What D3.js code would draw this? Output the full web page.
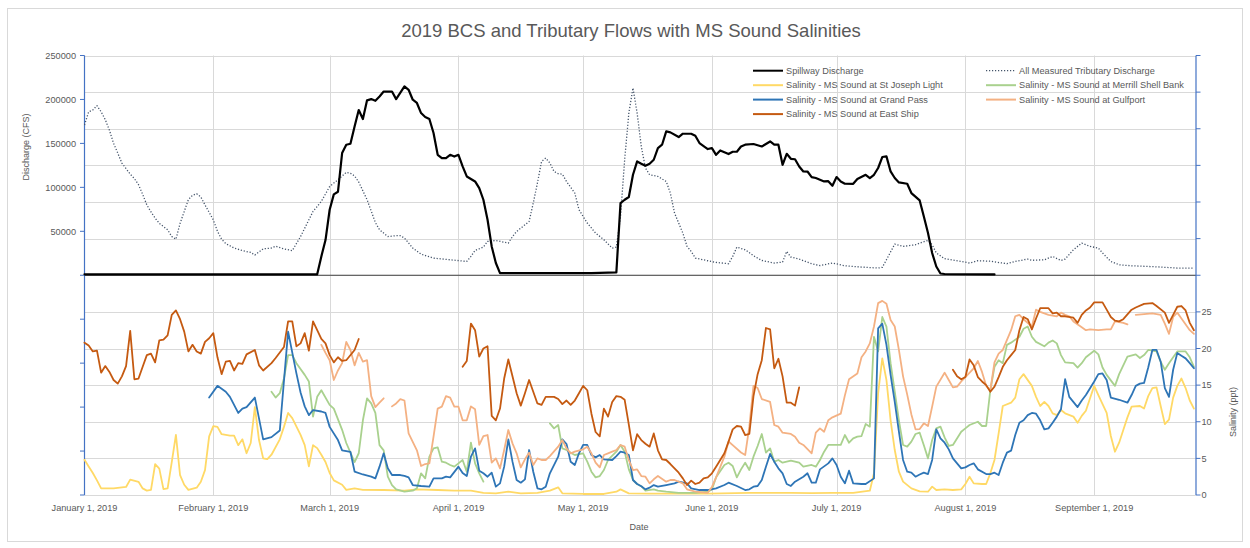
<!DOCTYPE html>
<html>
<head>
<meta charset="utf-8">
<script src="https://cdn.jsdelivr.net/npm/d3@7"></script>
<style>
  html, body { margin: 0; padding: 0; background: #fff; }
  svg text { font-family: "Liberation Sans", Arial, sans-serif; fill: #595959; }
</style>
</head>
<body>
<svg id="chart" width="1250" height="548"></svg>
<script>
// ---------- DATA (day offset from Jan 1, 2019 ; value) ----------
const title = "2019 BCS and Tributary Flows with MS Sound Salinities";
const monthTicks = ["2019-01-01","2019-02-01","2019-03-01","2019-04-01","2019-05-01","2019-06-01","2019-07-01","2019-08-01","2019-09-01"];
const dischargeTicks = [-250000,-200000,-150000,-100000,-50000,0,50000,100000,150000,200000,250000];
const dischargeLabels = [50000,100000,150000,200000,250000];
const salinityTicks = [0,5,10,15,20,25,30,35,40,45,50,55,60];
const salinityLabels = [0,5,10,15,20,25];

const spillway = [[0,1000],[56,1000],[57,21400],[58,40000],[59,74500],[60,92000],[61,95000],[62,139000],[63,148500],[64,149600],[65,169300],[66,188000],[67,177700],[68,199000],[69,200400],[70,198500],[71,203400],[72,209000],[74,209000],[75,200400],[77,214800],[78,211000],[79,199700],[80,196000],[81,184500],[82,180000],[83,177700],[84,161800],[85,137000],[86,133300],[87,133300],[88,137000],[89,135000],[90,137000],[91,123800],[92,112400],[94,106700],[95,99200],[96,85900],[97,63100],[98,32800],[99,13900],[100,2500],[122,2500],[128,3200],[129,82100],[130,85900],[131,89000],[132,114300],[133,129500],[134,126900],[135,124600],[136,126900],[137,131400],[138,144700],[139,148500],[140,163600],[141,162500],[143,157200],[144,161000],[146,161000],[147,158700],[148,150400],[150,143600],[151,144700],[152,137000],[153,142000],[155,137900],[156,140500],[157,140500],[158,146500],[159,148500],[161,149300],[163,146500],[164,149300],[165,152200],[166,148500],[167,148500],[168,125700],[169,138200],[170,132500],[171,132000],[172,123800],[173,118100],[174,118000],[175,111700],[176,110600],[178,106700],[179,107000],[180,101800],[181,111700],[182,106700],[183,104100],[185,104000],[186,109500],[188,114300],[189,110600],[190,114300],[191,122000],[192,134500],[193,135200],[194,118100],[195,110600],[196,105600],[198,104100],[199,93500],[201,85100],[202,66900],[203,48000],[204,25300],[205,10000],[206,2000],[207,1400],[219,1000]];

const tributary = [[0,171000],[1,186000],[2,188000],[3,193000],[4,186000],[5,177000],[6,165000],[7,150000],[8,139000],[9,127600],[11,115000],[12,110000],[13,103000],[14,92000],[15,80000],[16,72000],[17,65000],[18,59000],[20,51800],[21,44000],[22,41000],[23,59000],[25,86000],[26,91000],[27,92700],[28,89000],[29,80000],[31,63000],[32,50000],[33,41000],[34,36000],[36,31000],[38,28000],[40,26000],[41,23000],[43,30000],[45,31000],[46,33000],[48,30000],[50,28000],[52,44000],[55,72600],[57,84000],[59,101000],[61,108600],[63,117000],[64,116000],[65,113000],[66,106000],[68,86000],[70,60000],[71,51800],[73,44000],[75,45000],[76,45000],[77,42300],[79,31000],[81,24000],[84,19500],[88,17600],[92,15700],[93,21400],[94,28200],[96,32000],[97,38500],[99,39600],[102,36600],[103,44000],[104,49800],[106,57400],[107,61200],[108,82100],[109,104900],[110,129500],[111,133300],[112,127600],[113,118100],[114,115500],[115,115000],[116,106700],[118,93500],[119,74500],[121,59400],[123,48000],[125,40400],[127,30900],[128,32000],[129,66900],[130,131400],[131,184500],[132,213000],[133,184500],[134,146500],[135,122000],[136,114300],[138,112400],[140,106700],[141,93500],[142,70800],[144,48000],[145,33000],[146,27100],[147,19600],[150,16500],[152,14600],[155,13100],[156,21400],[157,32000],[159,29000],[161,22200],[163,16800],[166,13900],[168,15000],[169,27100],[170,20700],[172,18400],[175,13100],[177,11000],[180,13900],[183,10800],[187,9300],[191,8200],[192,9000],[193,17600],[195,35500],[197,32800],[200,34700],[201,36600],[203,39600],[204,34700],[205,25300],[207,18800],[211,15700],[213,13900],[215,16500],[218,16000],[222,13100],[224,15700],[227,18400],[228,17000],[231,17600],[233,21400],[235,16800],[236,18400],[238,29000],[240,36600],[242,32800],[244,30900],[245,25300],[247,15700],[249,11900],[252,10800],[256,10000],[259,9300],[263,8200],[267,8200]];

const stJoseph = [[0,4.8],[1,3.9],[2,3.0],[3,2.0],[4,0.9],[7,0.9],[9,1.05],[10,1.1],[11,2.1],[13,1.8],[14,0.9],[15,0.6],[16,0.7],[17,4.2],[18,3.6],[19,0.8],[20,0.9],[21,4.5],[22,8.2],[23,2.7],[24,1.4],[25,0.7],[27,1.0],[28,1.8],[29,3.4],[30,8.0],[31,9.4],[32,9.3],[33,8.3],[35,8.1],[36,8.1],[37,6.8],[38,7.6],[39,5.7],[40,7.1],[41,12.0],[42,7.5],[43,5.0],[44,4.9],[45,5.5],[47,7.6],[48,9.3],[49,11.2],[50,10.5],[52,8.2],[53,6.8],[54,3.9],[55,6.8],[56,6.4],[57,5.5],[58,4.5],[59,3.0],[60,2.0],[62,1.4],[63,0.7],[65,0.9],[67,0.7],[72,0.68],[77,0.59],[80,0.77],[85,0.68],[89,0.59],[93,0.59],[96,0.3],[99,0.23],[102,0.45],[105,0.23],[109,0.3],[112,0.59],[114,1.05],[115,0.23],[120,0.14],[125,0.14],[128,0.45],[129,0.77],[131,0.23],[136,0.2],[150,0.2],[160,0.3],[170,0.3],[175,0.25],[180,0.3],[185,0.3],[189,0.59],[190,2.96],[191,13.9],[192,18.65],[193,15.7],[194,10.2],[195,6.14],[196,3.18],[197,1.82],[199,0.91],[201,0.5],[203,0.45],[204,1.14],[205,0.68],[207,0.77],[209,0.68],[211,0.77],[212,1.5],[213,2.5],[214,1.59],[216,1.5],[217,1.5],[218,2.96],[219,4.78],[220,8.42],[221,12.15],[223,12.6],[224,13.3],[225,15.8],[226,16.5],[228,14.9],[229,13.4],[230,12.15],[231,12.7],[232,12.15],[233,11.15],[234,10.9],[235,11.6],[236,11.15],[238,10.7],[239,9.87],[240,10.8],[241,11.5],[242,13.2],[243,14.9],[244,13.65],[246,11.2],[247,8.05],[248,5.91],[249,7.14],[250,8.87],[251,10.6],[252,12.06],[254,12.15],[255,11.8],[256,13.5],[257,14.6],[258,14.7],[259,12.15],[260,9.69],[261,10.3],[262,13.3],[263,14.9],[264,15.9],[265,14.6],[266,12.9],[267,11.8]];

const merrill = [[45,14.1],[46,13.3],[47,13.9],[48,15.9],[49,19.1],[50,19.1],[51,18.0],[53,16.4],[54,15.5],[55,10.7],[56,13.4],[57,14.3],[59,12.3],[60,11.8],[62,8.9],[63,7.1],[65,4.5],[66,5.7],[67,10.2],[68,13.2],[69,12.5],[70,11.2],[71,6.8],[72,6.1],[73,2.5],[74,1.36],[75,0.77],[77,0.45],[79,0.59],[80,0.91],[81,2.96],[82,2.27],[83,5.23],[84,6.37],[85,6.51],[86,4.55],[87,4.41],[88,4.1],[89,3.87],[90,4.32],[91,4.78],[92,3.18],[93,7.14],[94,4.32],[95,2.96],[96,1.82],[97,null],[112,9.78],[113,9.1],[114,9.56],[115,6.37],[116,6.14],[117,5.78],[118,5.46],[120,5.69],[121,4.55],[122,3.18],[123,2.41],[124,2.59],[125,3.41],[126,4.78],[128,5.91],[129,6.83],[130,5.9],[131,3.5],[132,2.05],[133,1.5],[134,1.2],[135,0.59],[137,0.77],[138,0.59],[140,0.45],[143,0.3],[147,0.3],[150,0.45],[151,0.77],[152,2.41],[154,4.1],[155,4.41],[156,3.96],[157,2.41],[158,3.5],[159,4.41],[160,3.41],[161,5.23],[162,6.69],[163,8.33],[164,5.78],[165,6.37],[166,4.55],[167,4.78],[168,4.41],[170,4.69],[171,4.55],[172,4.41],[173,3.87],[175,4.1],[176,3.87],[177,4.78],[178,5.91],[179,6.83],[182,6.83],[183,8.19],[184,7.14],[185,7.73],[186,7.96],[187,8.05],[188,9.69],[189,9.33],[190,21.6],[191,19.6],[192,24.3],[193,23.0],[194,18.0],[195,14.1],[196,10.2],[197,6.83],[198,6.6],[199,7.28],[200,8.33],[201,8.51],[202,6.8],[203,5.0],[204,7.5],[205,9.1],[206,9.33],[207,7.87],[208,6.69],[209,6.83],[211,8.64],[212,9.1],[213,9.56],[215,10.0],[216,9.42],[217,9.42],[218,14.3],[219,17.5],[220,18.4],[221,18.0],[222,20.5],[223,20.8],[225,21.6],[226,22.7],[227,23.0],[228,21.6],[229,20.9],[231,20.3],[232,20.8],[233,21.1],[234,20.7],[235,19.1],[236,18.1],[238,18.0],[239,17.4],[240,18.0],[241,18.8],[243,19.7],[244,19.2],[245,17.4],[246,16.4],[248,14.9],[249,16.5],[250,17.7],[251,18.9],[253,19.2],[254,18.7],[255,19.1],[256,19.8],[258,19.6],[259,18.2],[260,17.1],[261,18.0],[262,18.8],[263,19.6],[265,19.6],[266,18.8],[267,17.5]];

const grandPass = [[30,13.3],[32,14.9],[34,14.1],[35,13.4],[37,11.2],[38,11.8],[39,12.0],[41,13.3],[43,7.6],[45,7.9],[47,8.8],[49,22.3],[51,16.6],[52,14.0],[53,12.1],[54,10.9],[55,11.6],[57,11.4],[58,11.2],[59,9.3],[61,7.5],[62,6.1],[64,5.9],[65,3.2],[67,2.8],[69,2.5],[70,2.27],[71,3.87],[72,5.69],[73,3.64],[74,2.73],[76,2.73],[77,2.6],[78,2.41],[79,1.36],[81,1.23],[83,1.14],[84,2.27],[86,2.27],[87,2.5],[88,2.41],[90,3.87],[91,3.0],[92,2.59],[93,5.23],[94,6.37],[95,3.32],[96,2.96],[97,2.5],[98,3.05],[99,1.14],[100,1.59],[101,3.87],[102,7.6],[103,4.55],[104,2.05],[105,1.68],[106,2.14],[107,6.14],[108,3.18],[109,0.91],[110,0.77],[111,1.14],[112,2.96],[114,5.23],[115,7.6],[116,6.96],[117,4.55],[118,4.1],[119,5.69],[120,6.83],[121,6.83],[122,5.46],[123,5.14],[124,5.46],[125,4.87],[127,4.78],[128,5.32],[129,5.91],[130,5.78],[131,5.46],[132,2.05],[133,1.5],[134,1.2],[135,0.77],[136,1.0],[137,1.36],[138,1.14],[140,1.36],[142,1.59],[143,1.82],[145,1.59],[146,0.91],[148,0.68],[150,0.68],[152,0.91],[154,1.36],[155,1.68],[157,1.23],[159,0.68],[160,0.77],[161,1.14],[162,1.23],[163,2.05],[164,3.87],[165,5.6],[166,4.55],[167,3.64],[168,2.96],[169,1.5],[170,1.23],[171,1.82],[173,2.5],[174,2.96],[175,1.68],[176,1.68],[177,3.5],[179,4.32],[180,5.0],[181,4.1],[182,2.5],[183,1.59],[184,3.32],[185,1.59],[187,1.5],[188,1.5],[190,2.27],[191,22.75],[192,23.4],[193,20.5],[194,16.4],[195,12.7],[196,8.64],[197,4.78],[198,3.18],[199,3.05],[200,2.5],[201,2.8],[202,3.05],[203,2.86],[204,4.78],[205,8.96],[206,7.73],[207,7.14],[208,6.23],[209,5.0],[211,3.64],[212,3.77],[213,4.1],[214,4.32],[215,3.5],[217,2.86],[218,2.86],[219,3.05],[220,2.73],[221,4.41],[222,5.78],[223,6.05],[224,8.19],[225,9.87],[226,10.2],[227,10.9],[228,11.2],[229,11.1],[230,10.2],[231,8.96],[232,9.1],[233,9.87],[234,10.7],[235,11.7],[236,15.8],[237,13.4],[239,12.0],[240,12.9],[241,13.65],[243,15.5],[244,16.5],[245,16.6],[246,15.7],[247,13.3],[249,13.0],[251,12.6],[252,13.65],[253,14.9],[254,15.2],[255,15.3],[256,17.4],[257,19.8],[258,19.8],[259,18.2],[260,14.6],[261,13.4],[262,17.1],[263,19.4],[264,19.0],[265,18.65],[266,18.0],[267,17.3]];

const gulfport = [[57,20.5],[58,19.4],[59,18.4],[60,15.7],[61,17.0],[62,18.0],[63,20.9],[64,19.8],[65,17.7],[66,19.4],[67,18.2],[68,18.4],[69,13.5],[70,12.0],[71,12.6],[72,13.2],[73,null],[74,12.1],[75,12.5],[76,13.1],[77,12.9],[78,8.4],[80,6.1],[81,3.96],[82,4.23],[83,4.32],[84,7.96],[85,11.8],[86,12.06],[87,13.5],[88,13.3],[89,12.06],[90,12.06],[91,10.2],[92,10.2],[93,12.1],[94,11.7],[95,6.83],[96,8.05],[97,8.19],[98,4.41],[99,5.0],[100,3.64],[101,6.14],[102,8.87],[103,7.05],[104,5.69],[105,3.77],[106,4.87],[107,5.78],[108,4.1],[109,5.0],[110,4.78],[111,4.78],[112,5.32],[114,6.6],[115,7.5],[116,6.37],[117,5.69],[118,5.91],[120,6.23],[121,6.6],[122,5.69],[123,4.41],[124,3.77],[125,5.46],[126,5.69],[127,5.91],[128,6.14],[129,6.83],[130,6.6],[131,4.78],[132,3.41],[133,3.5],[134,2.59],[135,2.5],[136,1.59],[137,2.14],[138,2.59],[140,1.82],[141,2.05],[142,2.05],[144,1.59],[145,0.77],[147,0.45],[150,0.3],[151,1.1],[152,2.41],[154,5.23],[155,7.3],[156,6.8],[158,5.8],[159,5.46],[160,9.33],[161,14.9],[162,14.6],[163,13.1],[165,12.7],[166,9.56],[167,9.33],[168,8.51],[170,8.33],[171,7.96],[172,7.14],[173,6.83],[175,5.69],[176,8.51],[177,9.1],[178,8.64],[179,10.2],[180,10.6],[182,11.1],[183,13.6],[184,15.8],[186,16.6],[187,18.8],[188,19.6],[189,20.7],[190,23.0],[191,26.2],[192,26.5],[193,26.1],[194,23.9],[195,23.0],[196,19.8],[197,16.2],[198,13.7],[199,11.0],[200,8.96],[201,9.0],[202,9.78],[203,9.42],[204,12.06],[205,14.8],[207,16.7],[208,15.7],[209,14.7],[210,14.8],[211,15.5],[212,16.1],[214,17.3],[215,18.3],[216,16.8],[217,14.9],[218,14.3],[219,18.1],[220,19.3],[221,19.8],[223,22.5],[224,24.4],[225,24.6],[226,24.0],[228,23.0],[229,25.3],[230,25.0],[231,24.8],[232,24.6],[234,24.4],[235,24.9],[236,24.6],[237,24.4],[238,23.7],[240,22.9],[241,22.5],[242,22.6],[244,22.5],[246,22.6],[247,22.6],[248,23.7],[250,23.5],[251,23.3],[252,null],[253,24.6],[255,24.7],[257,24.8],[259,24.6],[260,23.4],[261,22.0],[262,24.3],[263,24.9],[264,24.1],[266,22.5],[267,22.0]];

const eastShip = [[0,20.8],[1,20.4],[2,19.6],[3,19.7],[4,16.7],[5,17.6],[6,16.8],[7,15.7],[8,15.2],[9,16.2],[10,17.6],[11,22.4],[12,15.8],[13,15.9],[14,17.5],[15,19.1],[16,19.3],[17,18.1],[18,21.1],[19,21.2],[20,21.8],[21,24.6],[22,25.2],[23,24.0],[24,22.3],[25,19.6],[26,20.5],[27,19.6],[28,19.3],[29,20.9],[30,21.4],[31,22.1],[32,18.8],[33,16.5],[34,18.2],[35,18.3],[36,17.0],[37,18.0],[38,17.9],[39,19.2],[41,19.8],[42,17.7],[43,17.0],[45,18.0],[46,18.7],[48,20.2],[49,23.7],[50,23.7],[51,20.3],[52,20.7],[53,22.1],[54,19.7],[55,23.7],[56,22.5],[57,21.3],[58,20.7],[59,19.1],[60,18.1],[61,18.8],[62,18.3],[63,18.4],[65,19.8],[66,21.3],[67,null],[91,17.5],[92,18.3],[93,23.4],[94,22.5],[95,18.9],[96,20.0],[97,20.3],[98,10.8],[99,10.2],[100,11.8],[101,15.9],[102,18.5],[103,16.2],[104,13.9],[105,12.2],[106,13.9],[107,15.7],[108,14.1],[109,12.5],[110,12.3],[111,13.4],[113,13.4],[114,13.1],[115,12.4],[116,12.9],[117,12.3],[118,12.9],[119,13.9],[120,14.9],[121,14.3],[122,11.1],[123,8.6],[124,8.0],[125,11.8],[126,10.7],[127,12.7],[128,13.5],[129,13.4],[130,13.0],[131,9.6],[132,6.1],[133,8.3],[134,7.5],[135,7.0],[136,6.6],[137,8.4],[138,6.1],[139,4.87],[140,4.78],[141,4.23],[142,3.64],[143,3.05],[144,2.27],[145,1.36],[146,1.96],[147,1.5],[148,1.68],[149,2.27],[150,2.41],[151,2.96],[152,3.87],[153,4.78],[154,5.69],[155,7.28],[156,8.96],[157,9.42],[158,9.33],[159,8.19],[160,8.33],[161,13.5],[162,16.5],[163,18.4],[164,22.8],[165,22.6],[166,17.3],[167,18.6],[168,16.2],[169,12.6],[170,12.6],[171,12.2],[172,14.7],[173,null],[209,17.1],[210,16.2],[211,15.8],[212,16.1],[213,18.5],[214,17.7],[215,16.1],[216,15.5],[217,15.0],[218,14.1],[219,14.8],[220,16.1],[221,17.5],[222,18.4],[223,19.1],[224,19.8],[225,22.5],[226,24.3],[227,24.0],[228,22.6],[229,24.1],[230,25.5],[232,25.5],[233,24.8],[234,24.9],[235,24.4],[236,24.4],[238,24.2],[239,23.5],[240,24.6],[241,25.2],[242,25.6],[243,26.3],[245,26.3],[246,25.3],[247,24.3],[248,23.8],[249,23.7],[250,24.0],[252,25.3],[253,25.6],[255,26.1],[257,26.2],[258,25.8],[260,24.9],[261,23.5],[262,24.6],[263,25.7],[264,25.8],[265,25.2],[266,23.5],[267,22.5]];

const seriesNames = ["Spillway Discharge","All Measured Tributary Discharge","Salinity - MS Sound at St Joseph Light","Salinity - MS Sound at Merrill Shell Bank","Salinity - MS Sound at Grand Pass","Salinity - MS Sound at Gulfport","Salinity - MS Sound at East Ship"];
const seriesColors = ["#000000","#44546A","#FFD966","#A9D18E","#2E75B6","#F4B183","#C55A11"];

// ---------- CHART ----------
const svg = d3.select("#chart");
const START = Date.UTC(2019, 0, 1);
const toDate = d => new Date(START + d * 86400000);

const plot = { left: 84.5, right: 1196, top: 55.5, bottom: 495 };
const x = d3.scaleUtc().domain([toDate(0), toDate(267.5)]).range([plot.left, plot.right]);
const yQ = d3.scaleLinear().domain([-250000, 250000]).range([plot.bottom, plot.top]);
const yS = d3.scaleLinear().domain([0, 60]).range([plot.bottom, plot.top]);

// border
svg.append("rect").attr("x", 7.5).attr("y", 8.5).attr("width", 1235).attr("height", 533)
  .attr("fill", "#fff").attr("stroke", "#d9d9d9").attr("stroke-width", 1);

// title
svg.append("text").attr("x", 631).attr("y", 36.5).attr("text-anchor", "middle")
  .style("font-size", "18.5px").text(title);

// gridlines
const grid = svg.append("g");
grid.selectAll("line.h").data(salinityTicks).join("line")
  .attr("x1", plot.left).attr("x2", plot.right)
  .attr("y1", d => Math.round(yS(d)) + 0.5).attr("y2", d => Math.round(yS(d)) + 0.5)
  .attr("stroke", "#d9d9d9").attr("stroke-width", 1);
const monthDates = monthTicks.map(s => new Date(s + "T00:00:00Z"));
grid.selectAll("line.v").data(monthDates.slice(1)).join("line")
  .attr("x1", d => Math.round(x(d)) + 0.5).attr("x2", d => Math.round(x(d)) + 0.5)
  .attr("y1", plot.top).attr("y2", plot.bottom)
  .attr("stroke", "#d9d9d9").attr("stroke-width", 1);

// horizontal axis line at discharge 0
svg.append("line").attr("x1", plot.left).attr("x2", plot.right)
  .attr("y1", yQ(0)).attr("y2", yQ(0)).attr("stroke", "#404040").attr("stroke-width", 1);

// left axis
const axisColor = "#4472C4";
svg.append("line").attr("x1", plot.left).attr("x2", plot.left).attr("y1", plot.top).attr("y2", plot.bottom)
  .attr("stroke", axisColor).attr("stroke-width", 1.2);
svg.selectAll("line.lt").data(dischargeTicks).join("line")
  .attr("x1", plot.left - 4.5).attr("x2", plot.left)
  .attr("y1", d => yQ(d)).attr("y2", d => yQ(d)).attr("stroke", axisColor);
svg.selectAll("text.ll").data(dischargeLabels).join("text")
  .attr("x", 76).attr("y", d => yQ(d)).attr("dy", "0.35em").attr("text-anchor", "end")
  .style("font-size", "9.2px").text(d => d);
svg.append("text").attr("transform", "translate(29,147) rotate(-90)").attr("text-anchor", "middle")
  .style("font-size", "9px").text("Discharge (CFS)");

// right axis
svg.append("line").attr("x1", plot.right).attr("x2", plot.right).attr("y1", plot.top).attr("y2", plot.bottom)
  .attr("stroke", axisColor).attr("stroke-width", 1.2);
svg.selectAll("line.rt").data(salinityTicks).join("line")
  .attr("x1", plot.right).attr("x2", plot.right + 4.5)
  .attr("y1", d => yS(d)).attr("y2", d => yS(d)).attr("stroke", axisColor);
svg.selectAll("text.rl").data(salinityLabels).join("text")
  .attr("x", 1201.5).attr("y", d => yS(d)).attr("dy", "0.35em").attr("text-anchor", "start")
  .style("font-size", "9.2px").text(d => d);
svg.append("text").attr("transform", "translate(1236,412) rotate(-90)").attr("text-anchor", "middle")
  .style("font-size", "9px").text("Salinity (ppt)");

// date axis labels
const fmt = d3.utcFormat("%B %-d, %Y");
svg.selectAll("text.xl").data(monthDates).join("text")
  .attr("x", d => x(d)).attr("y", 511).attr("text-anchor", "middle")
  .style("font-size", "9.2px").text(d => fmt(d));
svg.append("text").attr("x", 639).attr("y", 530).attr("text-anchor", "middle")
  .style("font-size", "9px").text("Date");

// lines
const lineQ = d3.line().defined(d => d[1] != null).x(d => x(toDate(d[0]))).y(d => yQ(d[1]));
const lineS = d3.line().defined(d => d[1] != null).x(d => x(toDate(d[0]))).y(d => yS(d[1]));

const gLines = svg.append("g").attr("fill", "none").attr("stroke-linejoin", "round").attr("stroke-linecap", "round");
gLines.append("path").datum(tributary).attr("d", lineQ)
  .attr("stroke", seriesColors[1]).attr("stroke-width", 1.3).attr("stroke-dasharray", "1.2 1.8").attr("stroke-linecap", "butt");
gLines.append("path").datum(spillway).attr("d", lineQ)
  .attr("stroke", seriesColors[0]).attr("stroke-width", 2.2);

const salSeries = [stJoseph, merrill, grandPass, gulfport, eastShip];
salSeries.forEach((s, i) => {
  gLines.append("path").datum(s).attr("d", lineS)
    .attr("stroke", seriesColors[i + 2]).attr("stroke-width", 1.8);
});

// legend
const legendPos = [
  [753, 70.7], [986, 70.7],
  [753, 85.2], [986, 85.2],
  [753, 99.6], [986, 99.6],
  [753, 114.1]
];
const legendOrder = [0, 1, 2, 3, 4, 5, 6];
const lg = svg.append("g");
legendOrder.forEach((si, k) => {
  const [lx, ly] = legendPos[k];
  const ln = lg.append("line").attr("x1", lx).attr("x2", lx + 30).attr("y1", ly).attr("y2", ly)
    .attr("stroke", seriesColors[si]).attr("stroke-width", si === 1 ? 1.3 : 2);
  if (si === 1) ln.attr("stroke-dasharray", "1.2 1.8");
  lg.append("text").attr("x", lx + 33).attr("y", ly).attr("dy", "0.35em")
    .style("font-size", "9.2px").text(seriesNames[si]);
});
</script>
</body>
</html>
